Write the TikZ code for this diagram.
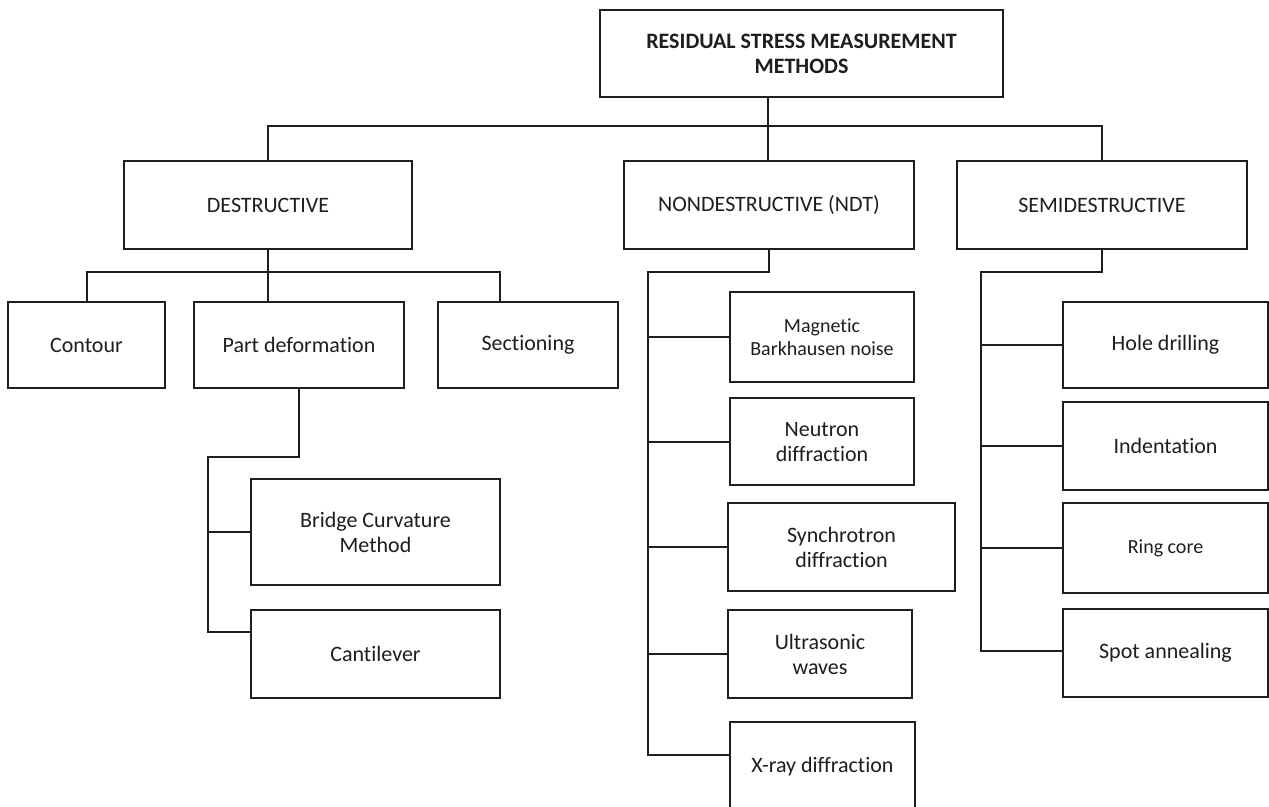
\documentclass[tikz,border=0pt]{standalone}
\usepackage{fontspec}
\setmainfont{Carlito}[Ligatures=NoCommon]
\definecolor{ink}{HTML}{1E1E1E}
\newcommand\fA{\fontsize{11}{12.5}\selectfont}
\newcommand\fB{\fontsize{10}{11.3}\selectfont}
\tikzset{
  bx/.style={draw=ink, line width=1pt, inner sep=0pt, outer sep=0pt, align=center, text=ink, font=\fA, fill=white},
  ln/.style={draw=ink, line width=1pt, line cap=rect}
}
\begin{document}
\begin{tikzpicture}[x=0.5pt,y=-0.5pt]
\clip (0,0) rectangle (1269,807);
\fill[white] (0,0) rectangle (1269,807);
% top level
\node[bx, minimum width=201.5pt, minimum height=43.5pt] (top) at (801.5,53.5) {\bfseries RESIDUAL STRESS MEASUREMENT\\\bfseries METHODS};
\node[bx, minimum width=144pt, minimum height=44pt] (dest) at (268,205) {DESTRUCTIVE};
\node[bx, minimum width=145pt, minimum height=44pt] (ndt) at (769,205) {NONDESTRUCTIVE (NDT)};
\node[bx, minimum width=145pt, minimum height=44pt] (semi) at (1102,205) {SEMIDESTRUCTIVE};
% destructive children
\node[bx, minimum width=78.5pt, minimum height=43pt] (contour) at (86.5,345) {Contour};
\node[bx, minimum width=105pt, minimum height=43pt] (partdef) at (299,345) {Part deformation};
\node[bx, minimum width=90pt, minimum height=43pt] (section) at (528,345) {Sectioning};
\node[bx, minimum width=124.5pt, minimum height=53pt] (bridge) at (375.5,532) {Bridge Curvature\\Method};
\node[bx, minimum width=124.5pt, minimum height=44pt] (cant) at (375.5,654) {Cantilever};
% NDT children
\node[bx, font=\fB, minimum width=92pt, minimum height=45pt] (mag) at (822,337) {Magnetic\\Barkhausen noise};
\node[bx, minimum width=92pt, minimum height=43.5pt] (neu) at (822,442) {Neutron\\diffraction};
\node[bx, minimum width=113.5pt, minimum height=44pt] (syn) at (841.5,547) {Synchrotron\\diffraction};
\node[bx, minimum width=92pt, minimum height=44pt] (ult) at (820,654) {Ultrasonic\\waves};
\node[bx, minimum width=92.5pt, minimum height=45pt] (xray) at (822.5,767) {X-ray diffraction};
% semidestructive children
\node[bx, minimum width=102.5pt, minimum height=43pt] (hole) at (1165.5,345) {Hole drilling};
\node[bx, minimum width=102.5pt, minimum height=44pt] (indent) at (1165.5,446) {Indentation};
\node[bx, font=\fB, minimum width=102.5pt, minimum height=45pt] (ring) at (1165.5,548) {Ring core};
\node[bx, minimum width=102.5pt, minimum height=44pt] (spot) at (1165.5,653) {Spot annealing};
% bus coordinates
\coordinate (b0) at (768,126);
\coordinate (d0) at (268,272);
\coordinate (d1) at (500,272);
\coordinate (p0) at (208,457);
\coordinate (p1) at (208,632);
\coordinate (n0) at (648,272);
\coordinate (n1) at (648,755);
\coordinate (s0) at (981,272);
\coordinate (s1) at (981,651);
% top connectors
\draw[ln] (b0 |- top.south) -- (b0);
\draw[ln] (dest.north) |- (b0) -| (semi.north);
\draw[ln] (b0) -- (b0 |- ndt.north);
% destructive connectors
\draw[ln] (dest.south) -- (d0 |- partdef.north);
\draw[ln] (contour.north) |- (d1) -- (d1 |- section.north);
\draw[ln] (partdef.south) |- (p0) -- (p1) -- (p1 -| cant.west);
\draw[ln] (p0 |- bridge.west) -- (bridge.west);
% NDT connectors
\draw[ln] (ndt.south) |- (n0) -- (n1) -- (n1 -| xray.west);
\draw[ln] (n0 |- mag.west) -- (mag.west);
\draw[ln] (n0 |- neu.west) -- (neu.west);
\draw[ln] (n0 |- syn.west) -- (syn.west);
\draw[ln] (n0 |- ult.west) -- (ult.west);
% semi connectors
\draw[ln] (semi.south) |- (s0) -- (s1) -- (s1 -| spot.west);
\draw[ln] (s0 |- hole.west) -- (hole.west);
\draw[ln] (s0 |- indent.west) -- (indent.west);
\draw[ln] (s0 |- ring.west) -- (ring.west);
\end{tikzpicture}
\end{document}
